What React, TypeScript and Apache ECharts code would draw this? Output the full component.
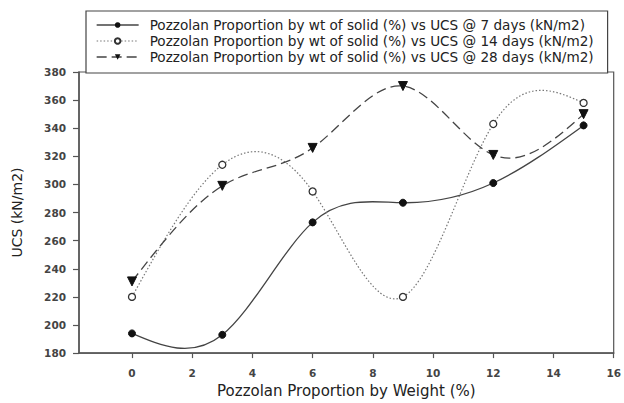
import React, { useEffect, useRef } from "react";
import * as echarts from "echarts";

const xValues = [0, 3, 6, 9, 12, 15];
const ucs7 = [194, 193, 273, 287, 301, 342];
const ucs14 = [220, 314, 295, 220, 343, 358];
const ucs28 = [231, 299, 326, 370, 321, 350];
const xTicks = [0, 2, 4, 6, 8, 10, 12, 14, 16];
const seriesNames = [
  "Pozzolan Proportion by wt of solid (%) vs UCS @ 7 days (kN/m2)",
  "Pozzolan Proportion by wt of solid (%) vs UCS @ 14 days (kN/m2)",
  "Pozzolan Proportion by wt of solid (%) vs UCS @ 28 days (kN/m2)",
];

const pairs = (ys: number[]) => xValues.map((x, i) => [x, ys[i]]);

// Natural cubic spline through the data, rendered as exact Bezier segments.
function splineSegments(xs: number[], ys: number[]) {
  const n = xs.length;
  const h: number[] = [];
  for (let i = 0; i < n - 1; i++) h.push(xs[i + 1] - xs[i]);
  const a: number[] = new Array(n).fill(0);
  const b: number[] = new Array(n).fill(1);
  const c: number[] = new Array(n).fill(0);
  const r: number[] = new Array(n).fill(0);
  for (let i = 1; i < n - 1; i++) {
    a[i] = h[i - 1] / 6;
    b[i] = (h[i - 1] + h[i]) / 3;
    c[i] = h[i] / 6;
    r[i] = (ys[i + 1] - ys[i]) / h[i] - (ys[i] - ys[i - 1]) / h[i - 1];
  }
  const cp = new Array(n).fill(0);
  const rp = new Array(n).fill(0);
  cp[0] = c[0] / b[0];
  rp[0] = r[0] / b[0];
  for (let i = 1; i < n; i++) {
    const m = b[i] - a[i] * cp[i - 1];
    cp[i] = c[i] / m;
    rp[i] = (r[i] - a[i] * rp[i - 1]) / m;
  }
  const M = new Array(n).fill(0);
  M[n - 1] = rp[n - 1];
  for (let i = n - 2; i >= 0; i--) M[i] = rp[i] - cp[i] * M[i + 1];
  const segs: number[][][] = [];
  for (let i = 0; i < n - 1; i++) {
    const hi = h[i];
    const d = (ys[i + 1] - ys[i]) / hi;
    const s0 = d - (hi * (2 * M[i] + M[i + 1])) / 6;
    const s1 = d + (hi * (M[i] + 2 * M[i + 1])) / 6;
    segs.push([
      [xs[i], ys[i]],
      [xs[i] + hi / 3, ys[i] + (s0 * hi) / 3],
      [xs[i + 1] - hi / 3, ys[i + 1] - (s1 * hi) / 3],
      [xs[i + 1], ys[i + 1]],
    ]);
  }
  return segs;
}

function curveSeries(ys: number[], style: any) {
  return {
    type: "custom",
    coordinateSystem: "cartesian2d",
    data: pairs(ys),
    silent: true,
    z: 1,
    renderItem: (params: any, api: any) => {
      if (params.dataIndex !== 0) return null;
      const segs = splineSegments(xValues, ys);
      let d = "";
      segs.forEach((s, k) => {
        const p = s.map((q) => api.coord(q));
        if (k === 0) d += `M${p[0][0]},${p[0][1]}`;
        d += ` C${p[1][0]},${p[1][1]} ${p[2][0]},${p[2][1]} ${p[3][0]},${p[3][1]}`;
      });
      return {
        type: "path",
        shape: { pathData: d },
        style: { fill: "none", stroke: style.color, lineWidth: style.width, lineDash: style.dash },
      };
    },
  };
}

const curveStyles = [
  { color: "#444", width: 1.3, dash: null },
  { color: "#777", width: 1.2, dash: [1.5, 2] },
  { color: "#444", width: 1.3, dash: [10, 5] },
];

export default function App() {
  const ref = useRef<HTMLDivElement>(null);
  useEffect(() => {
    if (!ref.current) return;
    const chart = echarts.init(ref.current, undefined, { renderer: "svg" });
    const font = "DejaVu Sans";
    const axisColor = "#555";
    const legendLine = (i: number) => ({
      color: curveStyles[i].color,
      width: curveStyles[i].width,
      type: curveStyles[i].dash || "solid",
      opacity: 1,
    });
    chart.setOption({
      animation: false,
      backgroundColor: "#fff",
      textStyle: { fontFamily: font },
      grid: {
        left: 79,
        top: 72,
        right: 6,
        bottom: 48,
        show: true,
        borderColor: axisColor,
        borderWidth: 1.2,
        backgroundColor: "transparent",
      },
      legend: {
        orient: "vertical",
        left: 86,
        top: 11,
        padding: [7, 14, 9, 10],
        itemGap: 2,
        itemWidth: 42,
        itemHeight: 7,
        borderColor: "#444",
        borderWidth: 1.2,
        backgroundColor: "#fff",
        textStyle: { fontFamily: font, fontSize: 13.6, lineHeight: 12.5, color: "#222", padding: [0, 0, 0, 6] },
        data: seriesNames.map((name, i) => ({ name, lineStyle: legendLine(i) })),
      },
      xAxis: {
        type: "value",
        min: -1.76,
        max: 16,
        name: "Pozzolan Proportion by Weight (%)",
        nameLocation: "middle",
        nameGap: 28.5,
        nameTextStyle: { fontFamily: font, fontSize: 15, color: "#222" },
        axisLine: { show: true, onZero: false, lineStyle: { color: axisColor, width: 1.5 } },
        axisTick: { show: true, length: 5, customValues: xTicks, lineStyle: { color: axisColor, width: 1.2 } },
        axisLabel: { customValues: xTicks, margin: 14, fontSize: 10.5, fontWeight: "bold", color: "#444", fontFamily: font },
        splitLine: { show: false },
      },
      yAxis: {
        type: "value",
        min: 180,
        max: 380,
        interval: 20,
        name: "UCS (kN/m2)",
        nameLocation: "middle",
        nameGap: 55,
        nameRotate: 90,
        nameTextStyle: { fontFamily: font, fontSize: 14, color: "#222" },
        axisLine: { show: true, onZero: false, lineStyle: { color: axisColor, width: 1.5 } },
        axisTick: { show: true, length: 6, lineStyle: { color: axisColor, width: 1.2 } },
        axisLabel: { margin: 13, fontSize: 10.5, fontWeight: "bold", color: "#444", fontFamily: font },
        splitLine: { show: false },
      },
      series: [
        curveSeries(ucs7, curveStyles[0]),
        curveSeries(ucs14, curveStyles[1]),
        curveSeries(ucs28, curveStyles[2]),
        {
          name: seriesNames[0],
          type: "line",
          data: pairs(ucs7),
          symbol: "circle",
          symbolSize: 7,
          itemStyle: { color: "#111", borderColor: "#111" },
          lineStyle: { width: 0, opacity: 0 },
          z: 4,
        },
        {
          name: seriesNames[1],
          type: "line",
          data: pairs(ucs14),
          symbol: "circle",
          symbolSize: 7,
          itemStyle: { color: "#fff", borderColor: "#333", borderWidth: 1.3 },
          lineStyle: { width: 0, opacity: 0 },
          z: 3,
        },
        {
          name: seriesNames[2],
          type: "line",
          data: pairs(ucs28),
          symbol: "triangle",
          symbolRotate: 180,
          symbolSize: 9,
          itemStyle: { color: "#111", borderColor: "#111" },
          lineStyle: { width: 0, opacity: 0 },
          z: 3,
        },
      ],
    });
    return () => chart.dispose();
  }, []);
  return <div ref={ref} style={{ position: "fixed", left: 0, top: 0, width: 624, height: 403 }} />;
}
